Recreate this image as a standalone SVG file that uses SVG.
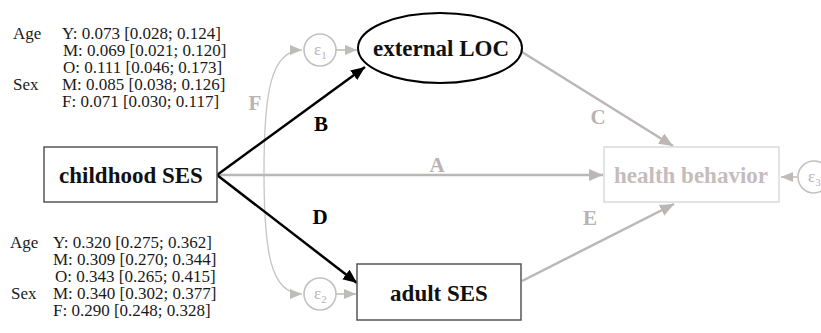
<svg xmlns="http://www.w3.org/2000/svg" width="821" height="333" viewBox="0 0 821 333">
<style>
.stat{font-family:"Liberation Serif","Times New Roman",serif;font-size:17px;fill:#1a1a1a}
.node{font-family:"Liberation Serif","Times New Roman",serif;font-size:23px;font-weight:bold;fill:#111}
.lbl{font-family:"Liberation Serif","Times New Roman",serif;font-size:21px;font-weight:bold}
.eps{font-family:"Liberation Serif","Times New Roman",serif;font-size:17px;fill:#b8b2b2}
.sub{font-size:11px}
.blk{stroke:#000;stroke-width:2.5;fill:none}
.gry{stroke:#bcb6b6;stroke-width:2.5;fill:none}
.thin{stroke:#c8c4c4;stroke-width:1.3;fill:none}
.ecirc{fill:#fff;stroke:#c4c0c0;stroke-width:1.6}
</style>
<defs>
<marker id="ab" markerUnits="userSpaceOnUse" markerWidth="16" markerHeight="14" refX="14" refY="6" orient="auto"><path d="M0,0 L14,6 L0,12 Z" fill="#000"/></marker>
<marker id="ag" markerUnits="userSpaceOnUse" markerWidth="16" markerHeight="14" refX="14" refY="6" orient="auto"><path d="M0,0 L14,6 L0,12 Z" fill="#bcb6b6"/></marker>
<marker id="ag2" markerUnits="userSpaceOnUse" markerWidth="14" markerHeight="12" refX="12" refY="5" orient="auto-start-reverse"><path d="M0,0 L12,5 L0,10 Z" fill="#c0bbbb"/></marker>
</defs>

<g id="stats-top" class="stat">
<text x="13" y="39">Age</text>
<text x="62" y="39">Y: 0.073 [0.028; 0.124]</text>
<text x="63" y="56">M: 0.069 [0.021; 0.120]</text>
<text x="63" y="73">O: 0.111 [0.046; 0.173]</text>
<text x="13" y="90">Sex</text>
<text x="62" y="90">M: 0.085 [0.038; 0.126]</text>
<text x="62" y="107">F: 0.071 [0.030; 0.117]</text>
</g>
<g id="stats-bottom" class="stat">
<text x="10" y="248">Age</text>
<text x="53" y="248">Y: 0.320 [0.275; 0.362]</text>
<text x="53" y="265">M: 0.309 [0.270; 0.344]</text>
<text x="55" y="282">O: 0.343 [0.265; 0.415]</text>
<text x="11" y="299">Sex</text>
<text x="53" y="299">M: 0.340 [0.302; 0.377]</text>
<text x="53" y="316">F: 0.290 [0.248; 0.328]</text>
</g>

<g id="connectors">
<path class="thin" d="M264,172 C264,95 270,50 302,50" marker-end="url(#ag2)"/>
<path class="thin" d="M264,172 C264,250 270,294 302,294" marker-end="url(#ag2)"/>
<line class="gry" x1="217" y1="175" x2="603" y2="175" marker-end="url(#ag)"/>
<line class="blk" x1="217" y1="175" x2="365" y2="67" marker-end="url(#ab)"/>
<line class="blk" x1="217" y1="175" x2="357" y2="283" marker-end="url(#ab)"/>
<line class="gry" x1="522" y1="52" x2="673" y2="146" marker-end="url(#ag)"/>
<line class="gry" x1="522" y1="281" x2="674" y2="204" marker-end="url(#ag)"/>
<line class="thin" style="stroke-width:1.8" x1="336" y1="50" x2="357" y2="50" marker-end="url(#ag2)"/>
<line class="thin" style="stroke-width:1.8" x1="336" y1="294" x2="356" y2="294" marker-end="url(#ag2)"/>
<line class="thin" style="stroke-width:1.8" x1="797" y1="177" x2="781" y2="177" marker-end="url(#ag2)"/>
<g class="lbl" fill="#bab3b3">
<text x="437" y="172" text-anchor="middle">A</text>
<text x="598" y="124" text-anchor="middle">C</text>
<text x="590" y="225" text-anchor="middle">E</text>
<text x="255" y="110" text-anchor="middle">F</text>
</g>
<g class="lbl" fill="#000">
<text x="321" y="131" text-anchor="middle">B</text>
<text x="320" y="224" text-anchor="middle">D</text>
</g>
</g>

<g id="childhood-ses">
<rect x="44" y="147" width="173" height="55" fill="#fff" stroke="#555" stroke-width="1.5"/>
<text class="node" x="131" y="183" text-anchor="middle">childhood SES</text>
</g>
<g id="external-loc">
<ellipse cx="440" cy="48" rx="82" ry="35" fill="#fff" stroke="#000" stroke-width="2"/>
<text class="node" x="441" y="56" text-anchor="middle">external LOC</text>
</g>
<g id="adult-ses">
<rect x="357" y="264" width="164" height="56" fill="#fff" stroke="#555" stroke-width="1.5"/>
<text class="node" x="439" y="301" text-anchor="middle">adult SES</text>
</g>
<g id="health-behavior">
<rect x="604" y="147" width="175" height="55" fill="#fff" stroke="#dcdada" stroke-width="1.5"/>
<text class="node" x="691" y="183" text-anchor="middle" style="fill:#c6bcbc">health behavior</text>
</g>
<g id="eps1">
<circle class="ecirc" cx="320" cy="50" r="16"/>
<text class="eps" x="314" y="55">ε<tspan class="sub" dy="4">1</tspan></text>
</g>
<g id="eps2">
<circle class="ecirc" cx="320" cy="294" r="16"/>
<text class="eps" x="314" y="299">ε<tspan class="sub" dy="4">2</tspan></text>
</g>
<g id="eps3">
<circle class="ecirc" cx="814" cy="177" r="16"/>
<text class="eps" x="808" y="182">ε<tspan class="sub" dy="4">3</tspan></text>
</g>
</svg>
